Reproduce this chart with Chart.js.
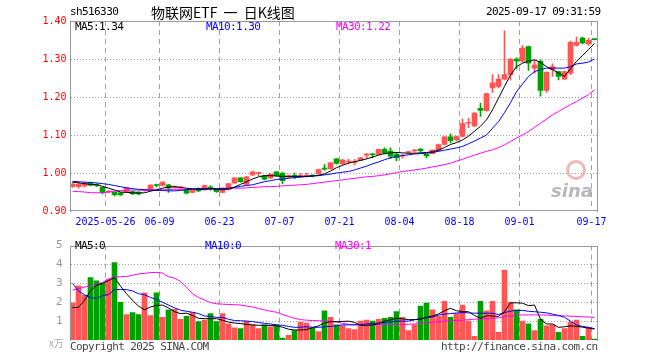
<!DOCTYPE html>
<html><head><meta charset="utf-8">
<script src="https://cdn.jsdelivr.net/npm/chart.js@4.4.1/dist/chart.umd.min.js"></script>
<style>
body{margin:0;background:#fff;width:660px;height:360px;position:relative;overflow:hidden;font-family:"DejaVu Sans Mono",monospace;}
canvas{position:absolute;left:0;}
.t{position:absolute;white-space:nowrap;font-size:11px;line-height:12px;letter-spacing:-0.6px;font-family:"DejaVu Sans Mono",monospace;}
</style></head><body>
<canvas id="k" width="660" height="232" style="top:0"></canvas>
<canvas id="v" width="660" height="128" style="top:232px"></canvas>
<div class="t" style="left:70px;top:6px;color:#000">sh516330</div>
<div class="t" style="left:151px;top:3px;font-family:'Noto Sans CJK SC';font-size:14px;line-height:18px;letter-spacing:0;word-spacing:3px;color:#000">物联网ETF 一 日K线图</div>
<div class="t" style="left:486px;top:6px;color:#000">2025-09-17 09:31:59</div>
<div class="t" style="left:75px;top:21px;color:#000">MA5:1.34</div>
<div class="t" style="left:206px;top:21px;color:#0000ff">MA10:1.30</div>
<div class="t" style="left:336px;top:21px;color:#ff00ff">MA30:1.22</div>
<div class="t" style="left:75px;top:240px;color:#000">MA5:0</div>
<div class="t" style="left:205px;top:240px;color:#0000ff">MA10:0</div>
<div class="t" style="left:335px;top:240px;color:#ff00ff">MA30:1</div>
<div class="t" style="left:49px;top:337px;color:#aaa;font-family:'Noto Sans CJK SC';font-size:10px;letter-spacing:0">x万</div>
<div class="t" style="left:70px;top:341px;color:#444">Copyright 2025 SINA.COM</div>
<div class="t" style="left:441px;top:341px;color:#444">http://finance.sina.com.cn</div>
<div style="position:absolute;left:566px;top:160px;width:14px;height:14px;border-radius:50%;border:3px solid #f0b8b8;"></div>
<div class="t" style="left:551px;top:181px;color:#b8b8b8;font-family:'DejaVu Sans';font-size:18px;line-height:20px;font-style:italic;font-weight:bold;letter-spacing:0">sina</div>
<script>
// ---- data ----
const days = ['05-16','05-19','05-20','05-21','05-22','05-23','05-26','05-27','05-28','05-29','05-30',
'06-03','06-04','06-05','06-06','06-09','06-10','06-11','06-12','06-13','06-16','06-17','06-18','06-19','06-20',
'06-23','06-24','06-25','06-26','06-27','06-30','07-01','07-02','07-03','07-04','07-07','07-08','07-09','07-10','07-11',
'07-14','07-15','07-16','07-17','07-18','07-21','07-22','07-23','07-24','07-25','07-28','07-29','07-30','07-31','08-01',
'08-04','08-05','08-06','08-07','08-08','08-11','08-12','08-13','08-14','08-15','08-18','08-19','08-20','08-21','08-22',
'08-25','08-26','08-27','08-28','08-29','09-01','09-02','09-03','09-04','09-05','09-08','09-09','09-10','09-11','09-12',
'09-15','09-16','09-17'];
const tickDays = ['05-26','06-09','06-23','07-07','07-21','08-04','08-18','09-01','09-17'];
const tickLabels = ['2025-05-26','06-09','06-23','07-07','07-21','08-04','08-18','09-01','09-17'];
const priceTicks = [0.90,1.00,1.10,1.20,1.30,1.40];
const priceGrid = [1.00,1.10,1.20,1.30];
const volTicks = [0,1,2,3,4,5];
const volGrid = [1,2,3,4];

const opens = [0.965,0.964,0.966,0.975,0.970,0.962,0.950,0.949,0.948,0.949,0.951,0.950,0.954,0.956,0.968,0.967,0.969,0.962,0.961,0.957,0.949,0.959,
0.956,0.962,0.958,0.949,0.956,0.974,0.987,0.970,0.995,0.999,0.993,0.987,1.003,1.000,0.989,0.992,0.991,0.992,0.993,0.998,1.012,1.011,
1.037,1.024,1.029,1.027,1.034,1.047,1.049,1.049,1.062,1.058,1.050,1.044,1.054,1.058,1.063,1.049,1.051,1.060,1.075,1.095,
1.088,1.096,1.131,1.124,1.170,1.164,1.224,1.228,1.247,1.259,1.300,1.294,1.333,1.276,1.294,1.217,1.272,1.267,1.247,1.263,1.336,1.355,1.340,1.352];
const highs = [0.974,0.976,0.976,0.977,0.972,0.963,0.954,0.950,0.949,0.962,0.953,0.951,0.957,0.969,0.971,0.977,0.970,0.966,0.965,0.958,0.956,0.961,
0.968,0.967,0.959,0.961,0.973,0.988,0.988,0.991,1.004,1.002,0.994,0.998,1.004,1.001,0.995,1.000,0.999,1.000,0.995,1.010,1.022,1.028,
1.038,1.036,1.036,1.036,1.041,1.052,1.051,1.063,1.066,1.066,1.054,1.050,1.057,1.062,1.064,1.050,1.061,1.076,1.096,1.103,
1.097,1.142,1.144,1.159,1.184,1.210,1.259,1.259,1.374,1.301,1.303,1.335,1.334,1.298,1.298,1.266,1.287,1.268,1.268,1.347,1.358,1.358,1.355,1.353];
const lows = [0.962,0.960,0.963,0.966,0.964,0.945,0.948,0.940,0.941,0.948,0.943,0.943,0.952,0.955,0.963,0.966,0.949,0.960,0.958,0.945,0.948,0.951,
0.954,0.955,0.949,0.948,0.955,0.972,0.975,0.968,0.993,0.993,0.982,0.985,0.991,0.971,0.987,0.985,0.988,0.989,0.990,0.996,1.007,1.010,
1.023,1.022,1.024,1.022,1.033,1.039,1.040,1.048,1.050,1.038,1.032,1.039,1.050,1.054,1.054,1.040,1.050,1.059,1.074,1.079,
1.084,1.095,1.119,1.122,1.149,1.163,1.212,1.224,1.245,1.244,1.274,1.291,1.270,1.263,1.202,1.212,1.254,1.245,1.246,1.259,1.334,1.340,1.336,1.350];
const closes = [0.971,0.970,0.973,0.968,0.967,0.949,0.952,0.943,0.942,0.961,0.945,0.945,0.956,0.968,0.967,0.976,0.960,0.964,0.962,0.947,0.955,0.953,
0.967,0.960,0.951,0.960,0.972,0.987,0.977,0.990,1.003,1.000,0.984,0.997,0.993,0.980,0.993,0.991,0.993,0.993,0.992,1.009,1.010,1.027,
1.025,1.034,1.031,1.029,1.040,1.049,1.048,1.062,1.052,1.044,1.040,1.046,1.055,1.059,1.059,1.045,1.060,1.075,1.095,1.085,
1.096,1.130,1.133,1.158,1.165,1.209,1.237,1.247,1.259,1.300,1.295,1.329,1.289,1.284,1.217,1.265,1.280,1.254,1.267,1.344,1.344,1.342,1.349,1.351];

const ma5 = [0.976,0.974,0.972,0.970,0.969,0.965,0.960,0.955,0.950,0.949,0.948,0.947,0.948,0.952,0.956,0.960,0.963,0.964,0.962,0.960,0.958,0.957,
0.957,0.958,0.957,0.956,0.958,0.963,0.970,0.977,0.984,0.990,0.993,0.993,0.992,0.991,0.991,0.991,0.991,0.991,0.992,0.994,0.998,1.005,
1.014,1.020,1.026,1.030,1.033,1.037,1.042,1.047,1.051,1.053,1.054,1.053,1.052,1.052,1.053,1.054,1.056,1.060,1.067,1.075,
1.080,1.087,1.097,1.110,1.123,1.140,1.166,1.197,1.228,1.258,1.280,1.289,1.294,1.298,1.291,1.280,1.272,1.263,1.254,1.274,1.294,1.309,1.325,1.341];
const ma10 = [0.978,0.977,0.976,0.975,0.974,0.972,0.970,0.967,0.964,0.961,0.959,0.957,0.956,0.955,0.954,0.954,0.953,0.953,0.954,0.956,0.958,0.959,
0.959,0.959,0.959,0.959,0.960,0.962,0.965,0.967,0.969,0.973,0.977,0.980,0.983,0.984,0.986,0.988,0.989,0.991,0.992,0.993,0.995,0.997,
1.000,1.002,1.004,1.008,1.013,1.018,1.024,1.029,1.035,1.040,1.044,1.046,1.048,1.050,1.051,1.052,1.054,1.057,1.060,1.063,
1.066,1.070,1.077,1.084,1.092,1.100,1.118,1.135,1.159,1.185,1.214,1.234,1.254,1.267,1.272,1.276,1.276,1.276,1.276,1.280,1.287,1.289,1.292,1.300];
const ma30 = [0.952,0.951,0.950,0.948,0.948,0.948,0.950,0.952,0.954,0.955,0.955,0.955,0.955,0.955,0.956,0.956,0.956,0.957,0.957,0.957,0.958,0.958,
0.958,0.958,0.959,0.959,0.959,0.960,0.960,0.961,0.962,0.963,0.964,0.964,0.965,0.966,0.967,0.968,0.969,0.970,0.972,0.974,0.976,0.978,
0.980,0.982,0.984,0.986,0.988,0.990,0.991,0.993,0.995,0.998,1.001,1.004,1.006,1.008,1.010,1.013,1.016,1.019,1.022,1.026,
1.031,1.036,1.042,1.047,1.052,1.057,1.061,1.067,1.074,1.083,1.092,1.100,1.109,1.120,1.131,1.142,1.153,1.162,1.171,1.180,1.188,1.197,1.206,1.219];

const volume = [1.97,2.87,2.37,3.3,3.13,3.0,3.2,4.1,2.0,1.35,1.45,1.35,2.5,1.3,2.5,1.2,1.6,1.63,1.1,1.25,1.45,0.97,
1.05,1.4,0.97,1.4,0.85,0.65,0.6,1.0,0.8,0.6,0.8,0.7,0.8,0.1,0.25,0.5,0.95,0.9,0.63,0.45,1.55,1.2,
0.8,0.75,0.6,0.55,1.0,1.05,1.0,1.1,1.15,1.2,1.5,1.2,0.5,0.8,1.8,1.95,1.6,1.25,2.05,1.2,
1.4,1.85,1.0,0.2,2.05,1.55,2.05,0.4,3.7,2.0,1.6,1.0,0.85,0.5,1.1,0.75,0.8,0.4,0.6,0.95,1.05,0.2,0.65,0.05];
const volMa5 = [1.72,1.72,2.1,2.6,2.9,3.0,3.15,3.3,2.85,2.45,2.1,1.8,1.6,1.75,1.83,1.85,1.7,1.5,1.4,1.42,1.3,1.15,
1.13,1.13,1.13,1.05,0.95,0.9,0.87,0.83,0.8,0.78,0.78,0.77,0.75,0.68,0.57,0.53,0.53,0.55,0.65,0.75,0.9,0.97,
0.97,0.98,1.0,0.93,0.78,0.77,0.8,0.87,1.0,1.07,1.15,1.12,1.08,1.08,1.1,1.2,1.27,1.38,1.55,1.68,
1.55,1.5,1.5,1.3,1.15,1.28,1.27,1.25,1.5,1.97,1.97,1.95,1.82,1.85,1.1,0.85,0.85,0.67,0.7,0.75,0.72,0.68,0.63,0.58];
const volMa10 = [3.0,2.6,2.4,2.25,2.2,2.35,2.4,2.67,2.67,2.67,2.6,2.45,2.4,2.25,2.15,2.0,1.85,1.7,1.58,1.52,1.47,1.4,
1.27,1.25,1.2,1.2,1.1,1.03,1.02,1.0,0.97,0.93,0.88,0.85,0.8,0.78,0.72,0.67,0.68,0.7,0.68,0.67,0.7,0.72,
0.75,0.8,0.8,0.8,0.82,0.85,0.87,0.9,0.92,0.96,1.0,1.0,1.0,1.07,1.13,1.18,1.22,1.32,1.37,1.4,
1.43,1.45,1.44,1.42,1.42,1.42,1.42,1.35,1.45,1.53,1.57,1.57,1.52,1.5,1.47,1.44,1.37,1.3,1.2,1.0,0.8,0.72,0.67,0.6];
const volMa30 = [2.65,2.72,2.8,2.88,2.95,3.05,3.25,3.33,3.35,3.37,3.43,3.5,3.53,3.57,3.58,3.55,3.35,3.28,3.1,2.8,2.45,2.25,
2.12,1.98,1.92,1.9,1.88,1.87,1.85,1.8,1.75,1.67,1.6,1.52,1.47,1.35,1.25,1.15,1.08,1.05,1.03,1.02,1.0,1.0,
0.95,0.88,0.83,0.82,0.8,0.8,0.8,0.82,0.83,0.83,0.83,0.83,0.83,0.85,0.9,0.92,0.93,0.97,1.0,1.02,
1.03,1.05,1.08,1.1,1.12,1.13,1.15,1.17,1.25,1.27,1.3,1.33,1.33,1.33,1.33,1.32,1.3,1.28,1.28,1.26,1.25,1.23,1.22,1.2];

// ---- styling ----
const RED = '#ff5555', GREEN = '#00a000';
const candleColors = closes.map((c, i) => c >= opens[i] ? RED : GREEN);
const tickIdx = tickDays.map(d => days.indexOf(d));
const MONO = 'DejaVu Sans Mono';

function makeGrid(hLines, withBottom) {
  return {
    id: 'kgrid',
    beforeDraw(chart) {
      const ctx = chart.ctx, a = chart.chartArea, ys = chart.scales.y;
      ctx.save();
      const L = Math.round(a.left), R = Math.round(a.right);
      ctx.fillStyle = '#a0a0a0';
      hLines.forEach(v => {
        const py = Math.round(ys.getPixelForValue(v));
        for (let px = L + 1; px < R; px += 3) ctx.fillRect(px, py, 1, 1);
      });
      ctx.restore();
    },
    afterDatasetsDraw(chart) {
      const ctx = chart.ctx, a = chart.chartArea;
      const L = Math.round(a.left), R = Math.round(a.right), T = Math.round(a.top), B = Math.round(a.bottom);
      ctx.save();
      ctx.fillStyle = '#999';
      ctx.fillRect(L, T, 1, B - T + 1);
      ctx.fillRect(R - 1, T, 1, B - T + 1);
      ctx.fillRect(L, T, R - L, 1);
      if (withBottom) ctx.fillRect(L, B - 1, R - L, 1);
      ctx.restore();
    }
  };
}

// vertical dashed date grid, drawn by the x scale itself
const dateGrid = {
  display: true, drawOnChartArea: true, drawTicks: false, offset: true, lineWidth: 1,
  color: c => (c.index !== undefined && tickIdx.indexOf(c.index) >= 0) ? '#a0a0a0' : 'rgba(255,255,255,0)'
};
const dateBorder = {display: false, dash: [5, 4]};

const lineDs = (data, color) => ({type: 'line', data, borderColor: color, borderWidth: 1, pointRadius: 0, tension: 0, order: 0});

new Chart(document.getElementById('k'), {
  data: {
    labels: days,
    datasets: [
      lineDs(ma5, '#000000'),
      lineDs(ma10, '#0000ff'),
      lineDs(ma30, '#ff00ff'),
      {type: 'bar', data: opens.map((o, i) => [o, closes[i]]), backgroundColor: candleColors, barThickness: 5, grouped: false, minBarLength: 1, order: 1},
      {type: 'bar', data: lows.map((l, i) => [l, highs[i]]), backgroundColor: candleColors, barThickness: 1, grouped: false, order: 2}
    ]
  },
  options: {
    responsive: false, animation: false, events: [],
    layout: {padding: {top: 21, right: 62.5, left: 0, bottom: 0}},
    plugins: {legend: {display: false}, tooltip: {enabled: false}},
    scales: {
      x: {
        type: 'category', offset: true,
        grid: dateGrid, border: dateBorder,
        afterFit: s => { s.height = 21; },
        ticks: {
          autoSkip: false, maxRotation: 0, padding: 5, labelOffset: -3,
          color: '#0000ff', font: {family: MONO, size: 10},
          callback: (v, i) => { const k = tickDays.indexOf(days[i]); return k >= 0 ? tickLabels[k] : ''; }
        }
      },
      y: {
        min: 0.9, max: 1.4,
        grid: {display: false, drawTicks: false}, border: {display: false},
        afterFit: s => { s.width = 69.5; },
        afterBuildTicks: s => { s.ticks = priceTicks.map(v => ({value: v})); },
        ticks: {padding: 3, color: '#ff0000', font: {family: MONO, size: 10}, callback: v => v.toFixed(2)}
      }
    }
  },
  plugins: [makeGrid(priceGrid, true)]
});

new Chart(document.getElementById('v'), {
  data: {
    labels: days,
    datasets: [
      lineDs(volMa5, '#000000'),
      lineDs(volMa10, '#0000ff'),
      lineDs(volMa30, '#ff00ff'),
      {type: 'bar', data: volume, backgroundColor: candleColors, barThickness: 5, grouped: false, order: 1}
    ]
  },
  options: {
    responsive: false, animation: false, events: [],
    layout: {padding: {top: 8, right: 62.5, left: 0, bottom: 20}},
    plugins: {legend: {display: false}, tooltip: {enabled: false}},
    scales: {
      x: {
        type: 'category', offset: true, display: true,
        grid: dateGrid, border: dateBorder,
        ticks: {display: false, autoSkip: false},
        afterFit: s => { s.height = 0; }
      },
      y: {
        min: 0, max: 5,
        grid: {display: false, drawTicks: false}, border: {display: false},
        afterFit: s => { s.width = 69.5; },
        afterBuildTicks: s => { s.ticks = volTicks.map(v => ({value: v})); },
        ticks: {padding: 7, color: '#999', font: {family: MONO, size: 11}, callback: v => v === 0 ? '' : String(v)}
      }
    }
  },
  plugins: [makeGrid(volGrid, false)]
});
</script>
</body></html>
